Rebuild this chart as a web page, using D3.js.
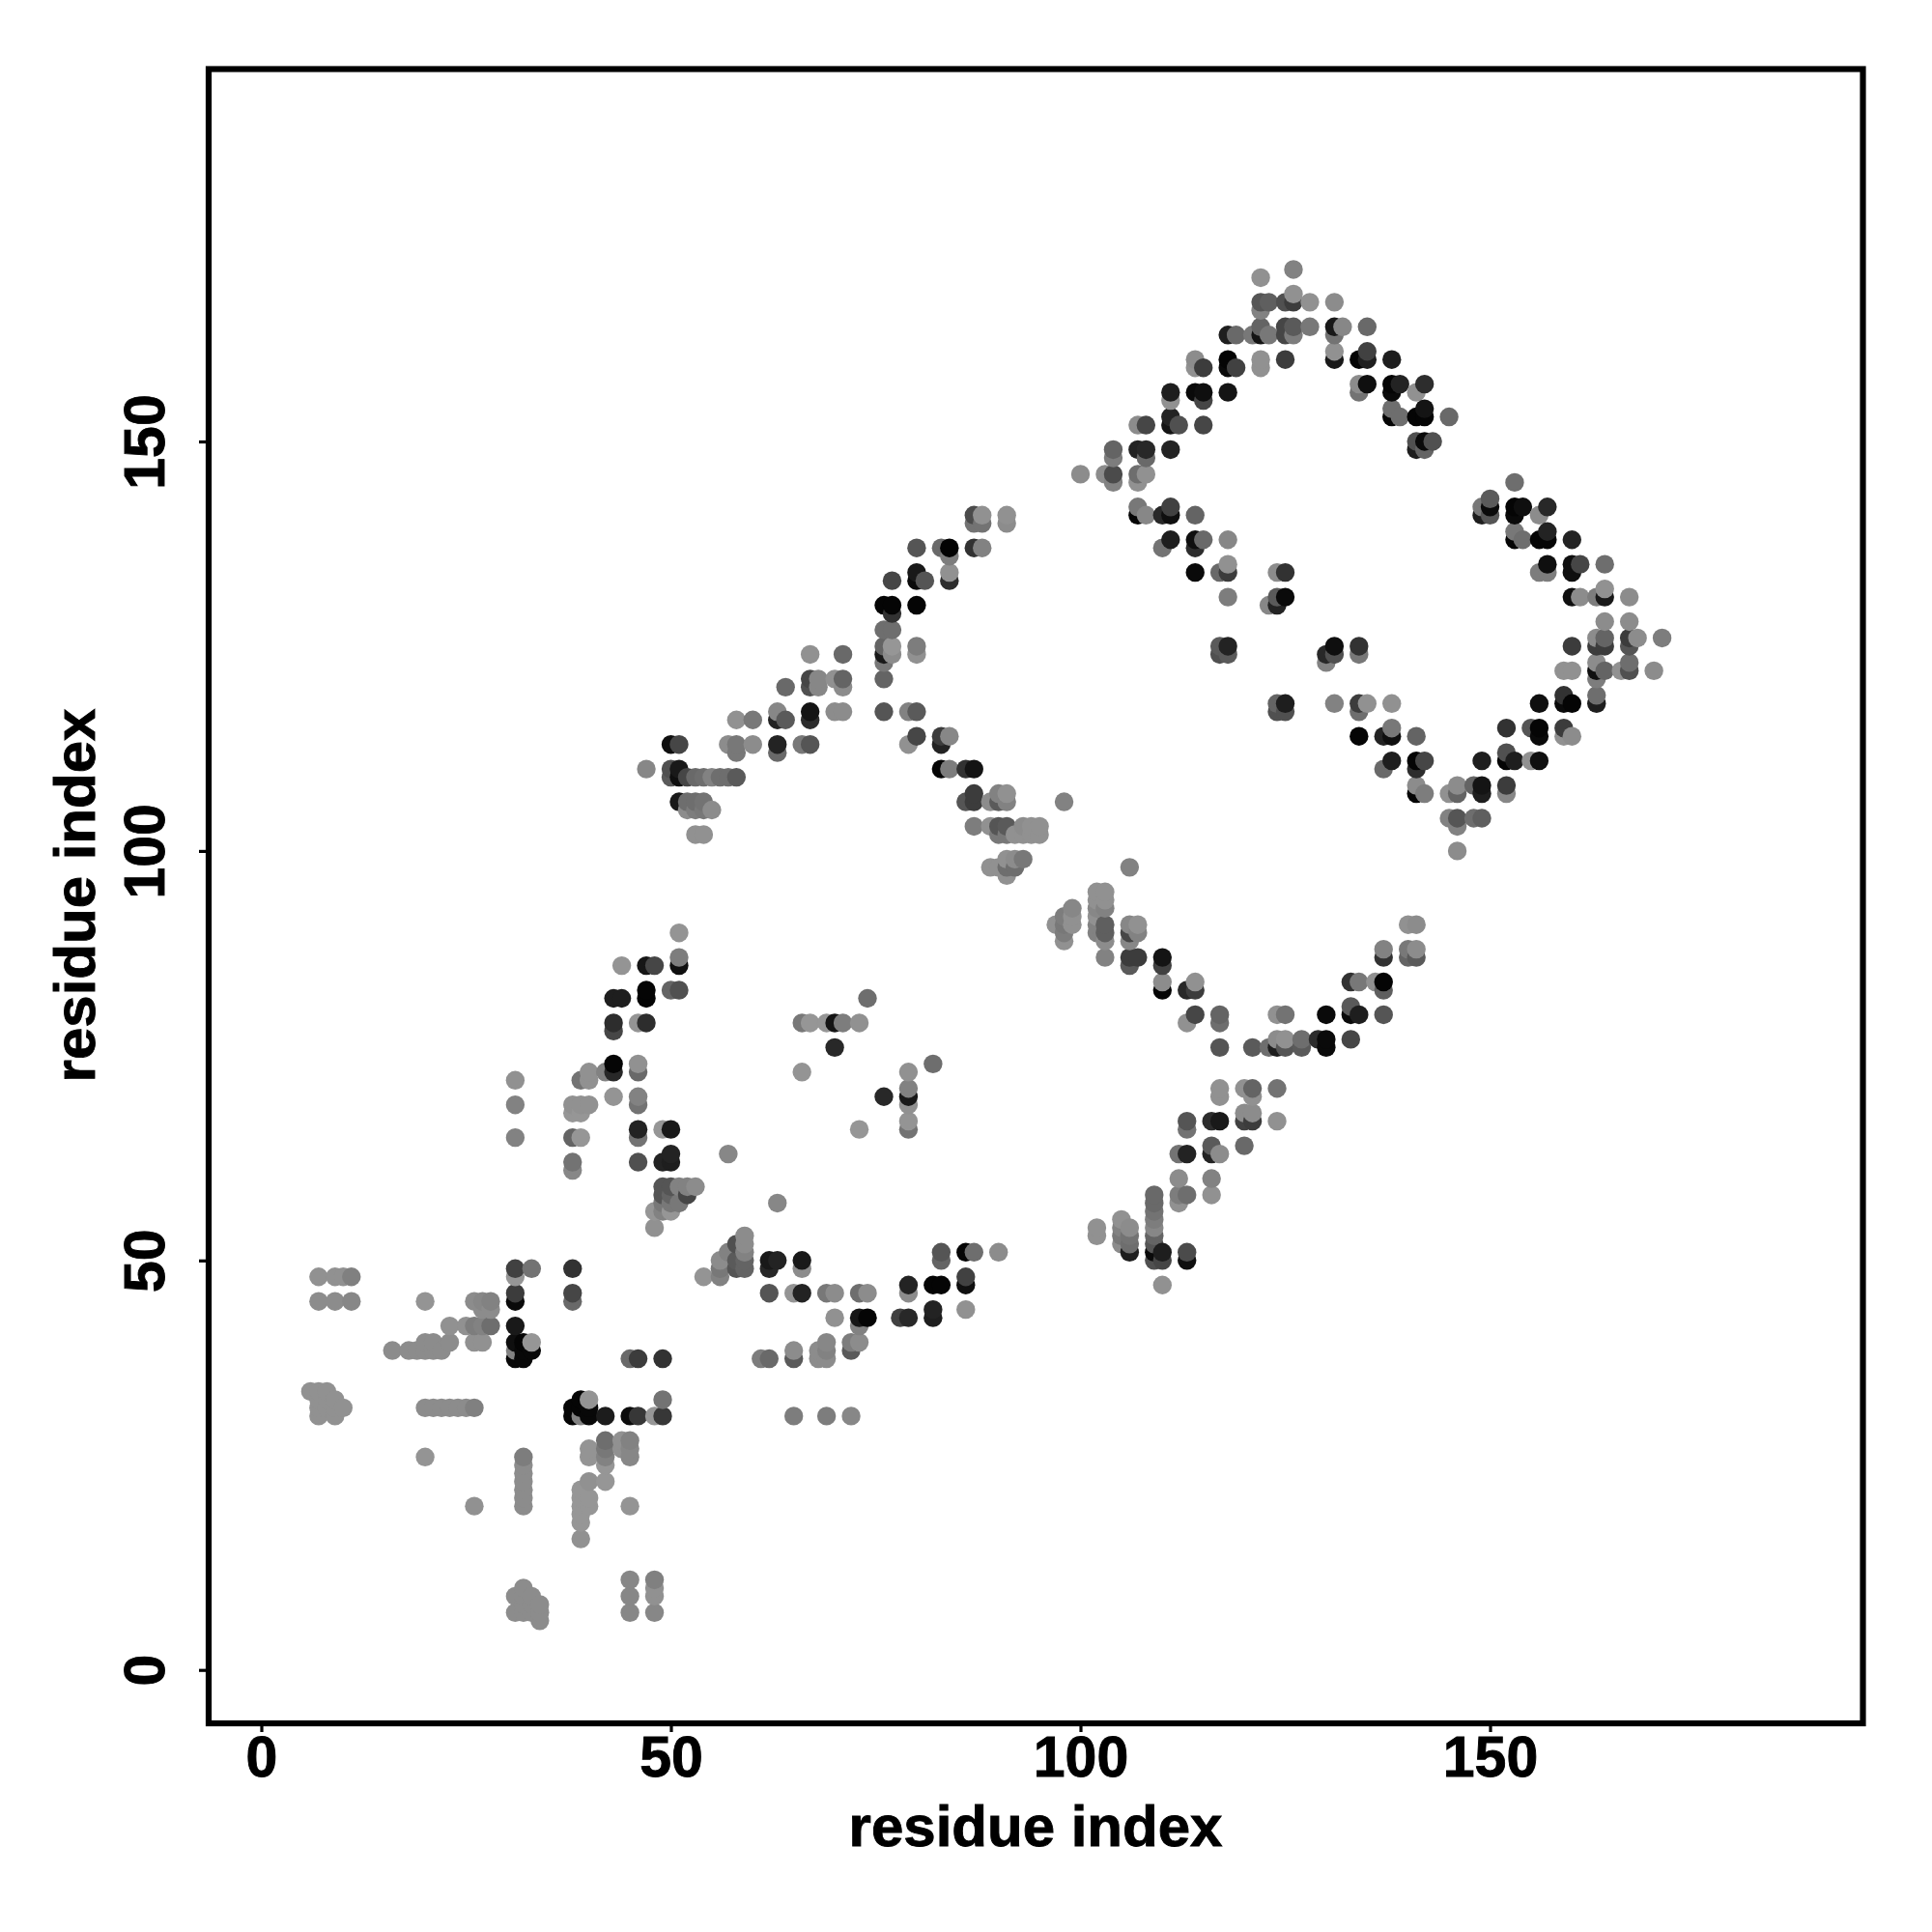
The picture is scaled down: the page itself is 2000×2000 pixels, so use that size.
<!DOCTYPE html>
<html>
<head>
<meta charset="utf-8">
<script src="https://cdn.jsdelivr.net/npm/d3@7"></script>
<style>
html,body{margin:0;padding:0;background:#fff}
svg{display:block}
text{font-family:"Liberation Sans",Arial,sans-serif;font-weight:700;fill:#000;stroke:#000;stroke-width:0.9px}
</style>
</head>
<body>
<div id="chart"></div>
<script>
// Each entry: [residue i, residue j, contact level (0 strongest, 150 weakest)]
const tickValues = [0, 50, 100, 150];
const axisTitle = "residue index";

const lowerLeft = [
[7,48,145],[9,48,145],[10,48,145],[11,48,128],[7,45,140],[9,45,140],[11,45,135],[20,45,148],
[26,45,140],[27,45,135],[28,45,130],[27,44,140],[28,44,140],[23,42,145],[25,42,145],[26,42,125],[27,42,130],[28,42,110],
[26,40,145],[27,40,145],[23,40,140],[20,40,140],[21,40,140],[16,39,140],[18,39,140],[19,39,140],[20,39,140],[21,39,140],[22,39,140],
[31,49,65],[31,48,150],[33,49,115],[31,46,60],[31,45,10],[31,42,25],[31,40,15],[31,39,130],[31,38,8],[32,38,8],[32,40,5],[33,40,150],[33,39,8],[32,39,8],
[38,49,50],[38,46,70],[38,45,105],[45,38,105],[46,38,60],[49,38,50],
[6,34,145],[7,34,145],[8,34,145],[7,33,145],[8,33,145],[9,33,145],[7,32,145],[8,32,145],[9,32,145],[10,32,145],[7,31,145],[9,31,145],
[20,32,140],[21,32,140],[22,32,140],[23,32,140],[24,32,140],[25,32,140],[26,32,128],
[38,31,5],[39,31,130],[40,31,8],[42,31,28],[45,31,12],[46,31,55],[48,31,150],[49,31,55],[38,32,5],[39,32,5],[40,32,8],[39,33,5],[40,33,148],[49,33,115],
[42,28,110],[44,28,145],[45,28,130],[40,27,148],[42,27,120],[44,27,145],[45,27,135],[40,26,148],[42,26,130],[45,26,135],[42,25,150],
[20,26,148],[32,26,125],[32,25,140],[32,24,140],[32,23,140],[32,22,140],[32,21,140],[32,20,140],[26,20,145],[45,20,148],
[42,23,150],[40,23,145],[39,22,150],[40,21,150],[40,20,150],[39,21,150],[39,20,150],[39,19,150],[39,18,150],[39,16,145],
[45,11,135],[45,9,135],[45,7,135],[48,11,128],[48,10,145],[48,9,145],[48,7,135],
[32,10,140],[31,9,140],[32,9,140],[33,9,140],[34,8,140],[31,7,140],[32,7,140],[33,7,140],[34,7,140],[34,6,140],[33,8,140],[32,8,140]
];

const earlyBand = [
[31,72,145],[31,69,130],[31,65,130],
[44,86,148],[47,86,22],[48,86,70],[51,86,15],[51,87,125],[51,90,148],[50,83,100],[51,83,80],[43,82,30],[44,82,30],[47,82,5],[47,83,5],
[43,79,45],[46,79,148],[47,79,45],[43,78,70],[43,74,5],[46,74,145],[43,73,40],[46,73,105],[42,73,130],[40,73,145],[39,72,115],[40,72,145],
[43,70,148],[46,70,130],[46,69,115],[38,69,145],[39,69,145],[40,69,145],[38,68,150],[39,68,150],[38,65,100],[39,65,150],
[46,66,35],[46,65,115],[49,66,150],[50,66,25],[50,63,35],[49,62,35],[50,62,30],[46,62,80],[38,62,115],[38,61,135],
[49,59,85],[50,59,85],[51,59,130],[52,59,130],[53,59,140],[49,58,85],[50,58,100],[52,58,70],[49,57,120],[50,57,120],[51,57,120],[48,56,150],[49,56,130],[50,56,150],[48,54,145],
[57,63,135],[63,57,135],
[66,79,120],[67,79,150],[69,79,150],[70,79,20],[71,79,125],[73,79,145],[74,82,110],[70,76,40],[66,73,148],[82,74,110],
[79,73,145],[79,71,130],[79,70,25],[76,70,40],[79,69,145],[79,67,148],[79,66,115],[73,66,150]
];

const lowerRow = [
[54,48,148],[56,48,130],[56,50,140],[56,49,120],[57,51,130],[58,52,80],[58,50,90],[58,49,85],[59,53,140],[59,52,140],[59,51,130],[59,50,100],[59,49,100],
[62,50,25],[63,50,35],[66,50,25],[62,49,40],[66,49,140],
[62,46,85],[65,46,148],[66,46,35],[69,46,120],[70,46,140],[73,46,110],[74,46,140],
[70,43,145],[73,43,22],[74,43,5],[73,42,130],[78,43,65],[79,43,40],[82,43,30],[82,44,35],[86,44,145],
[79,47,35],[82,47,5],[83,47,5],[86,47,15],[79,46,140],[86,48,65],
[83,51,85],[86,51,5],[87,51,110],[90,51,140],[83,50,100],
[65,31,125],[69,31,125],[72,31,135],[61,38,125],[62,38,105],[65,38,90],[68,38,140],[69,38,140],
[65,39,140],[68,39,140],[69,39,130],[72,39,90],[69,40,135],[72,40,125],[73,40,140]
];

const upperBand = [
[47,110,135],[50,113,15],[51,113,70],[50,110,80],[51,110,25],[50,109,90],[51,109,15],[52,109,70],[53,109,105],[54,109,110],[55,109,130],[56,109,110],[57,109,110],[58,109,90],
[51,106,25],[52,106,110],[53,106,110],[54,106,115],[52,105,140],[53,105,125],[54,105,120],[55,105,140],[53,102,145],[54,102,145],
[57,113,140],[58,113,120],[60,113,140],[63,113,35],[58,112,120],[63,112,105],[66,113,120],[67,113,85],
[58,116,145],[60,116,120],[63,116,35],[64,116,90],[67,116,45],[63,117,135],[67,117,20],[70,117,140],[71,117,140],
[64,120,105],[67,120,80],[68,120,135],[71,120,140],[67,121,70],[68,121,135],[70,121,145],[71,121,100],[67,124,145],[71,124,105],
[76,117,85],[79,117,130],[80,117,90],[76,121,100],[76,123,120],[76,124,25],[76,125,100],[76,127,110],[77,127,110],[77,125,150],[77,124,140],[80,125,125],[80,124,145],
[76,130,5],[77,130,5],[80,130,5],[77,129,50],[77,133,70],[80,134,25],[80,133,10],[81,133,85],[84,134,145],[84,133,45],
[80,137,85],[83,137,105],[84,137,3],[84,136,125],[87,137,50],[88,137,130],[87,141,75],[88,141,145],[87,140,115],[88,140,115],[91,141,145],[91,140,140]
];

const descending = [
[80,114,70],[79,113,145],[83,114,60],[84,114,135],[83,113,35],[83,110,5],[84,110,125],[86,110,50],[87,110,20],
[87,107,60],[86,106,85],[87,106,60],[89,106,140],[90,107,130],[91,107,145],[90,106,90],[91,106,130],[98,106,130],
[87,103,125],[89,103,145],[90,103,85],[91,103,90],[93,103,140],[94,103,145],[95,103,145],[90,102,120],[91,102,120],[92,102,145],[93,102,145],[94,102,145],[95,102,145],
[91,99,145],[92,99,140],[93,99,120],[89,98,145],[90,98,145],[91,98,110],[92,98,110],[91,97,145],
[106,98,130],[99,93,135],[98,92,125],[98,91,120],[99,92,145],[99,91,145],[97,91,145],[98,89,145],[98,90,125],
[102,95,145],[103,95,145],[102,94,145],[103,94,145],[102,93,135],[103,93,130],[102,92,145],[103,91,95],[102,91,130],[102,90,130],[103,90,95],[103,89,140],[103,87,130],
[106,91,135],[107,91,145],[106,90,70],[107,90,130],[106,89,135],[106,87,60],[107,87,60],[106,86,90],
[110,87,20],[110,86,65],[110,84,140],[110,83,5],[113,83,40],[114,83,60],[114,84,145],[114,80,70],[113,79,145],[117,80,100],[117,79,110],[117,76,85],
[121,76,90],[123,76,110],[124,76,30],[125,76,85],[127,76,90],[124,77,140],[125,77,145],[127,77,110],[129,77,45],[130,77,10],[130,76,10],[133,77,70],
[124,80,145],[125,80,115],[130,80,10],[133,81,90],[133,80,10],[134,80,30],[137,80,85],[133,84,50],[134,84,120],[136,84,145],[137,84,5],[137,83,95],
[137,88,130],[137,87,50],[140,88,120],[140,87,100],[140,91,145],[141,91,140],[141,88,140],[141,87,90]
];

const lowerRight = [
[117,71,145],[117,70,145],[120,71,145],[121,71,100],[121,70,145],[124,71,115],
[113,67,85],[113,66,115],[116,67,45],[117,67,25],[120,68,140],[121,68,140],[120,67,65],[121,67,60],[124,67,145],
[120,64,105],[116,64,90],[116,63,35],[117,63,140],[112,63,115],[113,63,35],[112,60,140],[116,60,130],[116,58,145],[112,58,125],[113,58,110],[112,57,145],
[109,58,105],[109,57,105],[109,56,115],[109,55,125],[109,54,135],[109,53,100],[109,52,85],[109,51,10],[109,50,80],
[110,51,30],[110,50,70],[110,47,145],[113,51,75],[113,50,15],
[105,55,145],[106,54,140],[105,54,130],[105,53,120],[105,52,140],[106,53,115],[106,52,110],[106,51,30],[102,54,145],[102,53,145]
];

const diamondTop = [
[100,146,140],[103,146,140],[104,146,75],[104,145,130],[104,149,100],[104,148,125],[107,146,110],[108,146,145],[107,145,145],
[107,149,35],[108,149,40],[108,148,105],[111,149,35],[107,152,140],[108,152,70],[111,153,35],[111,152,20],[112,152,80],[115,152,70],
[111,156,30],[111,155,145],[114,156,10],[115,156,15],[115,155,70],[118,156,20],[114,160,140],[114,159,145],[115,159,60],[118,160,5],[118,159,10],[119,159,65],
[122,160,145],[122,159,145],[125,160,60],[118,163,30],[119,163,105],[121,163,120],[122,163,20],[123,163,120],[122,164,100],[122,166,130],[122,167,85],[123,167,95],
[125,167,80],[126,167,60],[126,168,145],[128,167,145],[131,167,140],[122,170,145],[126,171,130],
[125,164,70],[125,163,70],[126,164,90],[126,163,125],[128,164,120],[131,164,25],[132,164,135],[131,163,115],[135,164,105],
[131,160,25],[131,161,145],[134,160,5],[135,160,30],[135,161,65],[138,160,30],[134,157,140],[134,156,115],[135,157,15],[138,157,5],[139,157,35],[138,156,10],[142,157,45],[141,156,145],
[138,154,110],[138,153,5],[139,153,110],[141,153,5],[142,153,5],[142,154,20],[145,153,105],[141,150,80],[142,150,10],[143,150,80],[141,149,30],[142,149,100]
];

const diamondInner = [
[107,142,120],[107,141,5],[108,141,135],[110,141,40],[111,142,65],[111,141,15],[114,141,100],[111,138,30],[110,137,115],[114,138,15],[115,138,105],[114,137,45],[118,138,135],
[114,134,10],[117,134,105],[118,135,145],[118,134,60],[124,134,140],[125,134,50],[118,131,125],[123,130,135],[124,131,90],[125,131,10],[124,130,35],
[117,125,90],[118,125,35],[117,124,80],[118,124,90],[131,125,15],[130,124,40],[131,124,80],[130,123,130],[134,125,50],[134,124,120],
[131,118,130],[134,118,60],[135,118,145],[134,117,110],[138,118,145],[124,118,100],[125,118,30],[124,117,80],[125,117,80]
];

const diamondRight = [
[153,145,110],[149,142,120],[150,143,90],[150,142,10],[149,141,30],[150,141,85],[153,142,5],[154,142,15],[153,141,10],[157,142,40],[156,141,140],
[153,139,120],[153,138,5],[154,138,110],[156,138,5],[157,138,5],[157,139,35],[160,138,35],[156,134,125],[157,135,15],[157,134,125],[160,135,15],[161,135,70],[160,134,15],[164,135,110],
[160,131,15],[161,131,140],[163,131,125],[164,131,25],[164,132,145],[167,131,140],[164,128,140],[167,128,140],
[163,126,140],[164,126,100],[163,125,60],[164,125,60],[167,126,60],[168,126,140],[167,125,85],[171,126,125],[160,125,60],
[159,122,145],[160,122,145],[163,123,140],[163,122,15],[164,122,100],[163,121,125],[166,122,145],[167,123,110],[167,122,80],[170,122,140],
[159,119,50],[159,118,10],[160,118,5],[156,118,15],[163,119,110],[163,118,30],
[152,115,50],[155,115,85],[156,115,5],[156,114,10],[159,115,60],[159,114,145],[160,114,140],
[149,111,30],[152,112,80],[152,111,5],[153,111,30],[155,111,145],[156,111,15],
[149,108,20],[149,107,30],[148,108,100],[152,108,60],[152,107,135],[146,108,140],[145,107,145],[146,107,100],
[145,104,130],[146,104,85],[146,103,130],[148,104,110],[149,104,95],[146,100,140],
[141,108,140],[141,107,5],[142,107,125],[138,111,30],[137,110,105],[141,111,5],[142,111,70],[141,110,45],
[134,114,5],[137,114,35],[138,114,15],[138,115,120],[141,114,100]
];

const contacts = d3.sort(
  [...lowerLeft, ...earlyBand, ...lowerRow, ...upperBand, ...descending, ...lowerRight, ...diamondTop, ...diamondInner, ...diamondRight],
  d => d[0], d => d[1]
);

const x = d3.scaleLinear().domain([0, 150]).range([270.5, 1542.5]);
const y = d3.scaleLinear().domain([0, 150]).range([1728.7, 457]);
const shade = d3.scaleLinear().domain([0, 150]).range(["#000000", "#969696"]);

const svg = d3.select("#chart").append("svg").attr("width", 2000).attr("height", 2000);

svg.append("g").selectAll("circle").data(contacts).join("circle")
  .attr("cx", d => x(d[0]))
  .attr("cy", d => y(d[1]))
  .attr("r", 9.7)
  .attr("fill", d => shade(d[2]));

const frame = {left: 216, right: 1928.5, top: 71.5, bottom: 1784};

svg.append("rect")
  .attr("x", frame.left).attr("y", frame.top)
  .attr("width", frame.right - frame.left).attr("height", frame.bottom - frame.top)
  .attr("fill", "none").attr("stroke", "#000").attr("stroke-width", 6.2);

const xAxis = svg.append("g").attr("transform", `translate(0,${frame.bottom})`)
  .call(d3.axisBottom(x).tickValues(tickValues).tickFormat(d3.format("d")).tickSize(9).tickPadding(4.4));
const yAxis = svg.append("g").attr("transform", `translate(${frame.left},0)`)
  .call(d3.axisLeft(y).tickValues(tickValues).tickFormat(d3.format("d")).tickSize(10));

[xAxis, yAxis].forEach(a => {
  a.select(".domain").remove();
  a.selectAll("line").attr("stroke", "#000").attr("stroke-width", 3.2);
  a.selectAll("text").attr("font-size", 59).style("font-family", '"Liberation Sans",Arial,sans-serif').style("font-weight", 700);
});
yAxis.selectAll("text")
  .attr("x", null).attr("dy", null).attr("text-anchor", "middle")
  .attr("transform", "translate(-46,0) rotate(-90)");

svg.append("text").attr("x", 1072).attr("y", 1911).attr("text-anchor", "middle").attr("font-size", 60).text(axisTitle);
svg.append("text").attr("transform", "translate(98,927) rotate(-90)").attr("text-anchor", "middle").attr("font-size", 60).text(axisTitle);
</script>
</body>
</html>
